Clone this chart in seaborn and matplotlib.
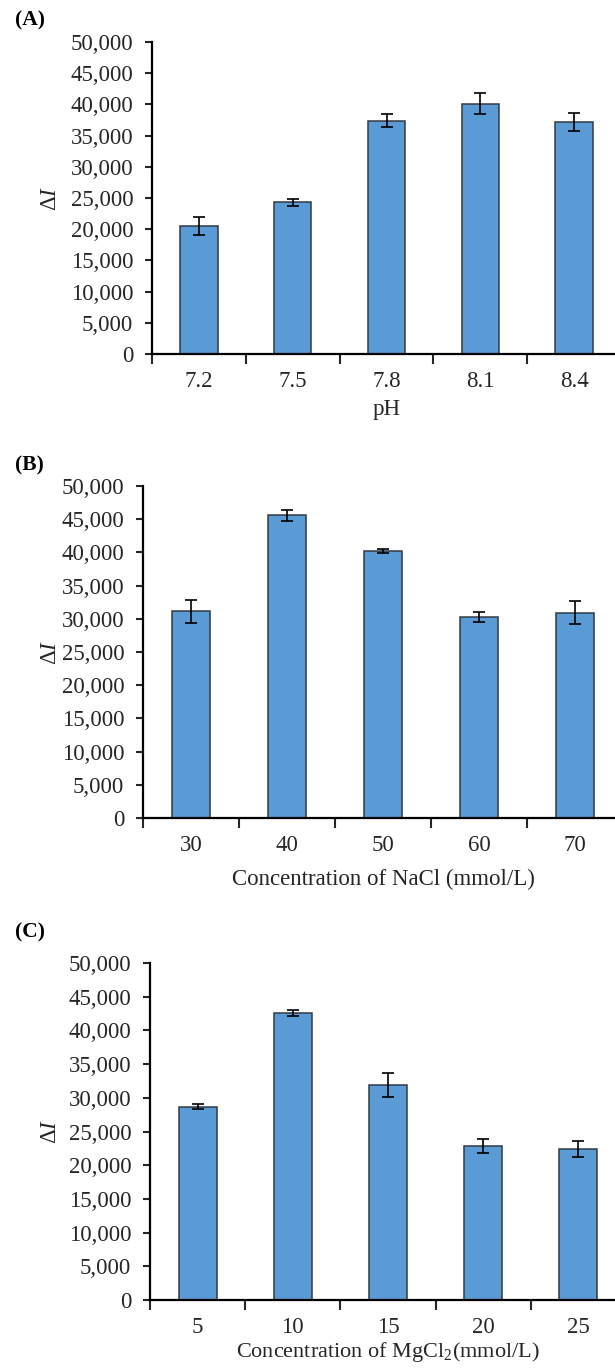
import numpy as np
import matplotlib
matplotlib.use('Agg')
import matplotlib.pyplot as plt
import matplotlib.ticker as mticker
import seaborn as sns

# data
ph_levels = ['7.2', '7.5', '7.8', '8.1', '8.4']
ph_signal = [20500, 24300, 37400, 40100, 37200]
ph_err = [1450, 600, 1050, 1700, 1450]

nacl_levels = ['30', '40', '50', '60', '70']
nacl_signal = [31100, 45600, 40200, 30300, 30900]
nacl_err = [1700, 850, 350, 780, 1740]

mgcl_levels = ['5', '10', '15', '20', '25']
mgcl_signal = [28650, 42600, 31900, 22850, 22400]
mgcl_err = [370, 400, 1720, 1030, 1200]

panel_tags = ['(A)', '(B)', '(C)']
x_titles = ['pH', 'Concentration of NaCl (mmol/L)', r'Concentration of MgCl$_2$(mmol/L)']

sns.set_style('ticks')
plt.rcParams['font.family'] = ['Liberation Serif', 'DejaVu Serif']
plt.rcParams['mathtext.fontset'] = 'custom'
plt.rcParams['mathtext.rm'] = 'Liberation Serif'
plt.rcParams['mathtext.it'] = 'Liberation Serif:italic'

W, H = 615, 1368
fig = plt.figure(figsize=(W / 100, H / 100), dpi=100)

bar_col = '#5b9bd5'
edge_col = '#333a44'
txt_col = '#262626'
fs = 16.5

# axes boxes in pixels: left, right, top, bottom
boxes = [(152, 621, 42, 354), (143, 623, 486, 818), (150, 626, 963, 1300)]
tag_y = [20, 465, 932]
xlab_pad = [5, 9, 1.5]
datasets = [(ph_levels, ph_signal, ph_err),
            (nacl_levels, nacl_signal, nacl_err),
            (mgcl_levels, mgcl_signal, mgcl_err)]

for k in range(3):
    l, r, t, b = boxes[k]
    ax = fig.add_axes([l / W, 1 - b / H, (r - l) / W, (b - t) / H])
    cats, vals, errs = datasets[k]

    sns.barplot(x=cats, y=vals, order=cats, color=bar_col, saturation=1,
                edgecolor=edge_col, linewidth=1.1, width=0.4, errorbar=None, ax=ax)
    ax.errorbar(np.arange(len(cats)), vals, yerr=errs, fmt='none', ecolor='black',
                elinewidth=1.2, capsize=4.6, capthick=1.2, zorder=5)

    ax.set_xlim(-0.5, len(cats) - 0.5)
    ax.set_ylim(0, 50000)
    ax.set_yticks(np.arange(0, 50001, 5000))
    ax.yaxis.set_major_formatter(mticker.StrMethodFormatter('{x:,.0f}'))

    # ticks sit between the categories, labels under the bars
    ax.set_xticks(np.arange(-0.5, len(cats), 1))
    ax.set_xticklabels([])
    ax.set_xticks(np.arange(len(cats)), minor=True)
    ax.set_xticklabels(cats, minor=True)
    ax.tick_params(axis='x', which='major', length=7, width=1.5, direction='out')
    ax.tick_params(axis='x', which='minor', length=0, pad=12.5, labelsize=fs, labelcolor=txt_col)
    ax.tick_params(axis='y', length=5, width=1.5, direction='out', pad=8.5,
                   labelsize=fs, labelcolor=txt_col)

    sns.despine(ax=ax)
    for s in ['left', 'bottom']:
        ax.spines[s].set_linewidth(1.6)
        ax.spines[s].set_color('black')

    ax.set_xlabel(x_titles[k], fontsize=fs if k < 2 else 16, color=txt_col, labelpad=xlab_pad[k])
    ax.set_ylabel(r'$\Delta I$', fontsize=fs, color=txt_col)
    ax.yaxis.set_label_coords((61 - l) / (r - l), 0.5)

    fig.text(15 / W, 1 - tag_y[k] / H, panel_tags[k], fontsize=15.5, fontweight='bold',
             va='center', ha='left', color='black')

fig.savefig('out.png', dpi=100)
